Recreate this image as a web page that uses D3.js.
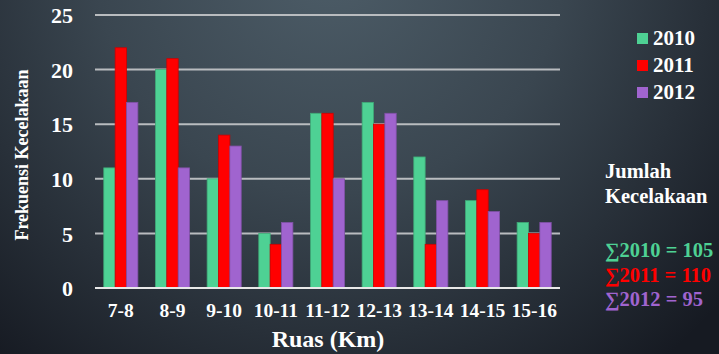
<!DOCTYPE html>
<html>
<head>
<meta charset="utf-8">
<script src="https://cdn.jsdelivr.net/npm/d3@7"></script>
<style>
  html, body { margin: 0; padding: 0; background: #1b2028; }
  svg { display: block; }
</style>
</head>
<body>
<svg id="chart" width="719" height="354"></svg>
<script>
// Road segments (km) along the route
const categories = ["7-8", "8-9", "9-10", "10-11", "11-12", "12-13", "13-14", "14-15", "15-16"];
const years = ["2010", "2011", "2012"];
const values2010 = [11, 20, 10, 5, 16, 17, 12, 8, 6];
const values2011 = [22, 21, 14, 4, 16, 15, 4, 9, 5];
const values2012 = [17, 11, 13, 6, 10, 16, 8, 7, 6];
const yTicks = [0, 5, 10, 15, 20, 25];
const colors = ["#4ed194", "#ff0000", "#a064cf"];
const totalsTitle = ["Jumlah", "Kecelakaan"];
const totals = ["\u22112010 = 105", "\u22112011 = 110", "\u22112012 = 95"];

const seriesValues = [values2010, values2011, values2012];
const FONT = '"Liberation Serif", "Times New Roman", serif';

const svg = d3.select("#chart");
const W = 719, H = 354;

// Styled text helper
function label(sel, size, fill) {
  return sel.style("font-family", FONT).style("font-weight", "bold")
    .style("font-size", size + "px").attr("fill", fill || "#ffffff");
}

// Background: soft radial light from the top
const defs = svg.append("defs");
const grad = defs.append("radialGradient")
  .attr("id", "bg").attr("gradientUnits", "userSpaceOnUse")
  .attr("cx", 330).attr("cy", -40).attr("r", 520);
grad.append("stop").attr("offset", "0%").attr("stop-color", "#4d5d68");
grad.append("stop").attr("offset", "45%").attr("stop-color", "#3a4650");
grad.append("stop").attr("offset", "100%").attr("stop-color", "#161a22");
svg.append("rect").attr("width", W).attr("height", H).attr("fill", "url(#bg)");

const plotLeft = 95, plotRight = 560, plotTop = 15, plotBottom = 288;

const x = d3.scaleBand().domain(categories).range([plotLeft, plotRight])
  .paddingInner(0.34).paddingOuter(0.17);
const xi = d3.scaleBand().domain(years).range([0, x.bandwidth()]);
const y = d3.scaleLinear().domain([0, 25]).range([plotBottom, plotTop]);

// Horizontal grid lines
svg.append("g").selectAll("line").data(yTicks.filter(d => d > 0)).join("line")
  .attr("x1", plotLeft).attr("x2", plotRight)
  .attr("y1", d => y(d)).attr("y2", d => y(d))
  .attr("stroke", "#b9bcbf").attr("stroke-width", 2);

// Bars
const groups = svg.append("g").selectAll("g").data(categories).join("g")
  .attr("transform", c => `translate(${x(c)},0)`);
groups.selectAll("rect")
  .data((c, i) => years.map((yr, s) => ({ yr, s, v: seriesValues[s][i] })))
  .join("rect")
  .attr("x", d => xi(d.yr))
  .attr("width", xi.bandwidth())
  .attr("y", d => y(d.v))
  .attr("height", d => y(0) - y(d.v))
  .attr("fill", d => colors[d.s])
  .attr("stroke", d => d3.color(colors[d.s]).darker(0.6))
  .attr("stroke-width", 0.8);

// Baseline
svg.append("line").attr("x1", plotLeft).attr("x2", plotRight)
  .attr("y1", y(0)).attr("y2", y(0))
  .attr("stroke", "#e8e8e8").attr("stroke-width", 2);

// Y axis labels
const yAxis = d3.axisLeft(y).tickValues(yTicks).tickSize(0).tickPadding(0);
const gy = svg.append("g").attr("transform", `translate(${73},0)`).call(yAxis);
gy.select(".domain").remove();
label(gy.selectAll("text"), 22).attr("dy", "0.35em");

// X axis labels
const xAxis = d3.axisBottom(x).tickSize(0).tickPadding(0);
const gx = svg.append("g").attr("transform", `translate(0,${plotBottom})`).call(xAxis);
gx.select(".domain").remove();
label(gx.selectAll("text"), 19.5).attr("y", 29).attr("dy", 0);

// Axis titles
label(svg.append("text"), 24).attr("x", 328).attr("y", 347)
  .attr("text-anchor", "middle").text("Ruas (Km)");
label(svg.append("text"), 18).attr("transform", "translate(28,155) rotate(-90)")
  .attr("text-anchor", "middle").text("Frekuensi Kecelakaan");

// Legend
const legend = svg.append("g").attr("transform", "translate(637,33)");
years.forEach((yr, i) => {
  const g = legend.append("g").attr("transform", `translate(0,${i * 27})`);
  g.append("rect").attr("width", 11).attr("height", 11).attr("fill", colors[i]);
  label(g.append("text"), 21).attr("x", 16).attr("y", 12).text(yr);
});

// Totals per year
totalsTitle.forEach((t, i) => {
  label(svg.append("text"), 20.5).attr("x", 605).attr("y", 178 + i * 25).text(t);
});
totals.forEach((t, i) => {
  label(svg.append("text"), 20.5, colors[i]).attr("x", 605).attr("y", 257 + i * 24.5).text(t);
});
</script>
</body>
</html>
